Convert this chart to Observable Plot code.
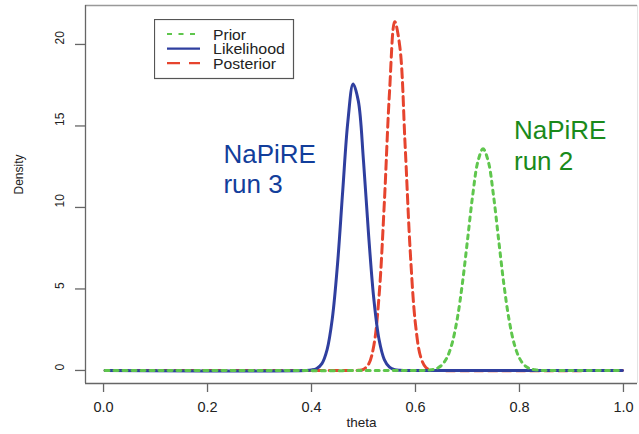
<!DOCTYPE html>
<html><head><meta charset="utf-8">
<script src="https://cdn.jsdelivr.net/npm/d3@7"></script>
<script src="https://cdn.jsdelivr.net/npm/@observablehq/plot@0.6"></script>
<style>
body{margin:0;background:#fff;}
#chart{position:relative;width:639px;height:434px;font-family:"Liberation Sans",Arial,sans-serif;}
#legend{position:absolute;left:154px;top:19px;}
</style></head><body><div id="chart"></div>
<script>
const xTicks = [0, 0.2, 0.4, 0.6, 0.8, 1.0];
const yTicks = [0, 5, 10, 15, 20];
const xDomain = [-0.0347, 1.027];
const yDomain = [-0.8, 22.39];
const seriesNames = ["Prior", "Likelihood", "Posterior"];
const seriesColors = ["#5fc64d", "#2f3f9f", "#e6442e"];

const priorTheta   = [0.003, 0.61, 0.62, 0.63, 0.64, 0.65, 0.66, 0.67, 0.68, 0.69, 0.70, 0.71, 0.72, 0.73, 0.74, 0.75, 0.76, 0.77, 0.78, 0.79, 0.80, 0.81, 0.82, 0.83, 0.84, 0.85, 0.998];
const priorDensity = [0,     0,    0.01, 0.04, 0.11, 0.31, 0.75, 1.62, 3.11, 5.29, 7.99, 10.74, 12.82, 13.6, 12.82, 10.74, 7.99, 5.29, 3.11, 1.62, 0.75, 0.31, 0.11, 0.04, 0.01, 0, 0];

const likelihoodTheta   = [0.003, 0.39, 0.40, 0.41, 0.42, 0.43, 0.44, 0.45, 0.46, 0.47, 0.48, 0.49, 0.50, 0.51, 0.52, 0.53, 0.54, 0.55, 0.56, 0.57, 0.58, 0.998];
const likelihoodDensity = [0,     0,    0.03, 0.12, 0.42, 1.28, 3.18, 6.51, 11.0, 15.3, 17.58, 16.54, 12.85, 8.23, 4.34, 1.88, 0.67, 0.20, 0.05, 0.01, 0, 0];

const posteriorTheta   = [0.003, 0.48, 0.49, 0.50, 0.51, 0.52, 0.53, 0.54, 0.55, 0.56, 0.57, 0.58, 0.59, 0.60, 0.61, 0.62, 0.63, 0.64, 0.998];
const posteriorDensity = [0,     0,    0.01, 0.07, 0.39, 1.55, 4.60, 10.24, 17.06, 21.4, 19.83, 13.85, 7.24, 2.83, 0.83, 0.18, 0.03, 0, 0];

const annotationTexts = ["NaPiRE\nrun 3", "NaPiRE\nrun 2"];
const annotationTheta = [0.2306, 0.7894];
const annotationDensity = [14.05, 15.5];
const annotationColors = ["#123e9b", "#1a8a1a"];

const rows = (xs, ys) => xs.map((t, i) => ({theta: t, density: ys[i]}));
const prior = rows(priorTheta, priorDensity);
const likelihood = rows(likelihoodTheta, likelihoodDensity);
const posterior = rows(posteriorTheta, posteriorDensity);
const notes = annotationTexts.map((t, i) => ({text: t, theta: annotationTheta[i], density: annotationDensity[i], color: annotationColors[i]}));

const plot = Plot.plot({
  width: 639, height: 434,
  marginLeft: 85, marginRight: 2, marginTop: 5, marginBottom: 51,
  style: {fontFamily: "'Liberation Sans', Arial, sans-serif", background: "#fff", color: "#222", overflow: "visible"},
  x: {domain: xDomain},
  y: {domain: yDomain},
  marks: [
    Plot.ruleY([yDomain[1]], {stroke: "#999", strokeWidth: 1.5}),
    Plot.ruleX([xDomain[1]], {stroke: "#e4e4e4"}),
    Plot.ruleY([yDomain[0]], {stroke: "#666", strokeWidth: 1.3}),
    Plot.ruleX([xDomain[0]], {stroke: "#666", strokeWidth: 1.3}),
    Plot.axisX({ticks: xTicks, tickSize: 9, tickPadding: 9, tickFormat: d3.format(".1f"), fontSize: 14.5, label: null, stroke: "#666", strokeWidth: 1.3, fill: "#222", style: {letterSpacing: "1px"}}),
    Plot.axisY({ticks: yTicks, tickSize: 10, tickFormat: () => "", label: null, stroke: "#666", strokeWidth: 1.3}),
    Plot.text(yTicks, {y: d => d, frameAnchor: "left", dx: -25, rotate: -90, text: d => String(d), fontSize: 12, fill: "#222"}),
    Plot.text(["Density"], {frameAnchor: "left", dx: -66, rotate: -90, text: d => d, fontSize: 12, fill: "#222"}),
    Plot.text(["theta"], {frameAnchor: "bottom", dy: 43, text: d => d, fontSize: 13.5, fill: "#222", style: {letterSpacing: "1.2px"}}),
    Plot.line(posterior, {x: "theta", y: "density", stroke: seriesColors[2], strokeWidth: 3, strokeDasharray: "9,5", curve: "catmull-rom"}),
    Plot.line(likelihood, {x: "theta", y: "density", stroke: seriesColors[1], strokeWidth: 3, curve: "catmull-rom"}),
    Plot.line(prior, {x: "theta", y: "density", stroke: seriesColors[0], strokeWidth: 3, strokeDasharray: "4,5", curve: "catmull-rom"}),
    Plot.text(notes, {x: "theta", y: "density", text: "text", fill: "color", textAnchor: "start", lineAnchor: "top", fontSize: 26, lineHeight: 1.17})
  ]
});

const chart = document.getElementById("chart");
chart.appendChild(plot);

// legend
const lg = d3.select(chart).append("svg").attr("id", "legend").attr("width", 141).attr("height", 61);
lg.append("rect").attr("x", 0.5).attr("y", 0.5).attr("width", 139).attr("height", 59).attr("fill", "#fff").attr("stroke", "#555").attr("stroke-width", 1.2);
const legendDash = ["5,6.5", null, "13,9"];
const legendTextWidth = [33, 72, 63];
seriesNames.forEach((name, i) => {
  const yy = 15 + i * 14.6;
  lg.append("line").attr("x1", 13).attr("x2", 46).attr("y1", yy).attr("y2", yy)
    .attr("stroke", seriesColors[i]).attr("stroke-width", 2.2).attr("stroke-dasharray", legendDash[i]);
  lg.append("text").attr("x", 59).attr("y", yy + 5.5).text(name)
    .attr("font-size", 14).attr("fill", "#222")
    .attr("font-family", "'Liberation Sans', Arial, sans-serif")
    .attr("textLength", legendTextWidth[i]).attr("lengthAdjust", "spacingAndGlyphs");
});
</script></body></html>
